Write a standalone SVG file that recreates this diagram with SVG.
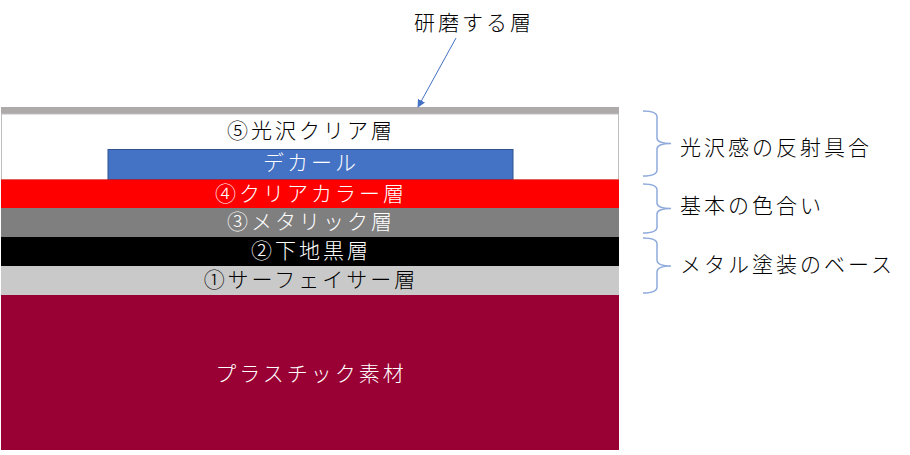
<svg xmlns="http://www.w3.org/2000/svg" width="910" height="455" viewBox="0 0 910 455">
  <defs>
    <style>
      text { font-family: "Noto Sans CJK JP", "Noto Sans", sans-serif; font-size: 21px; letter-spacing: 3px; font-weight: 300; }
      .c { text-anchor: middle; }
      .w { fill: #ffffff; }
      .k { fill: #000000; }
      .brace { fill: none; stroke: #8FAADC; stroke-width: 1.5; }
    </style>
    <marker id="ah" viewBox="0 0 10 10" refX="9" refY="5" markerWidth="8" markerHeight="8" orient="auto" markerUnits="userSpaceOnUse">
      <path d="M0,0 L10,5 L0,10 z" fill="#4472C4"/>
    </marker>
  </defs>

  <g id="polish-layer">
    <rect x="1" y="107" width="618" height="7" fill="#AEAAAA"/>
  </g>
  <g id="layer5">
    <rect x="1.5" y="114" width="617" height="65.5" fill="#ffffff" stroke="#BFBFBF" stroke-width="1"/>
    <text class="c k" x="311" y="138">⑤光沢クリア層</text>
  </g>
  <g id="decal">
    <rect x="108" y="149.5" width="405" height="30" fill="#4472C4" stroke="#2F528F" stroke-width="1"/>
    <text class="c w" x="311" y="170">デカール</text>
  </g>
  <g id="layer4">
    <rect x="1" y="179.5" width="618" height="28.5" fill="#FF0000"/>
    <text class="c w" x="311" y="201">④クリアカラー層</text>
  </g>
  <g id="layer3">
    <rect x="1" y="208" width="618" height="29" fill="#7F7F7F"/>
    <text class="c w" x="311" y="229">③メタリック層</text>
  </g>
  <g id="layer2">
    <rect x="1" y="237" width="618" height="29" fill="#000000"/>
    <text class="c w" x="311" y="258">②下地黒層</text>
  </g>
  <g id="layer1">
    <rect x="1" y="266" width="618" height="29" fill="#C9C9C9"/>
    <text class="c k" x="311" y="287">①サーフェイサー層</text>
  </g>
  <g id="plastic">
    <rect x="1" y="295" width="618" height="155" fill="#990033"/>
    <text class="c w" x="311" y="381">プラスチック素材</text>
  </g>

  <g id="label-polish">
    <text class="c k" x="474" y="30">研磨する層</text>
  </g>
  <g id="label-gloss">
    <text class="k" x="680" y="155">光沢感の反射具合</text>
  </g>
  <g id="label-color">
    <text class="k" x="680" y="213">基本の色合い</text>
  </g>
  <g id="label-base">
    <text class="k" x="680" y="272">メタル塗装のベース</text>
  </g>

  <g id="connectors">
    <line x1="456" y1="38" x2="418" y2="107" stroke="#4472C4" stroke-width="1" marker-end="url(#ah)"/>
    <path class="brace" d="M643,111 Q657,111 657,117 L657,138 Q657,143.5 671,143.5 Q657,143.5 657,149 L657,170 Q657,176 643,176"/>
    <path class="brace" d="M643,184 Q657,184 657,190 L657,203 Q657,208.5 671,208.5 Q657,208.5 657,214 L657,227 Q657,233 643,233"/>
    <path class="brace" d="M643,238 Q657,238 657,244 L657,260 Q657,266 671,266 Q657,266 657,272 L657,287 Q657,293 643,293"/>
  </g>
</svg>
